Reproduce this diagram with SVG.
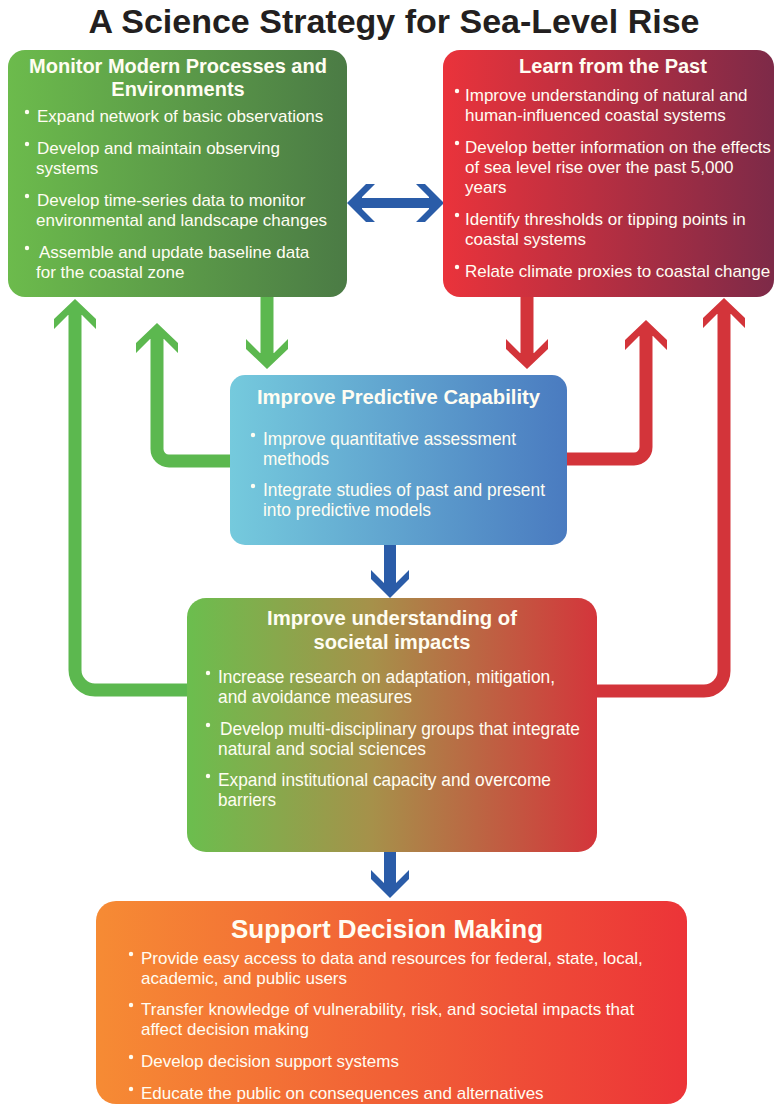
<svg xmlns="http://www.w3.org/2000/svg" width="775" height="1107" viewBox="0 0 775 1107">
<style>
.t{font-family:"Liberation Sans",Arial,sans-serif;fill:#fffdf2}
.h{font-weight:bold;font-size:20px;text-anchor:middle}
.b{font-size:17px}
.n{font-family:"Liberation Sans Narrow","Liberation Sans",Arial,sans-serif;fill:#fffdf2}
.nb{font-size:19px}
.nh{font-size:20px;font-weight:bold;text-anchor:middle}
.d{fill:#fffdf2}
.cg{fill:none;stroke:#5cb84f;stroke-width:13}
.cr{fill:none;stroke:#d3343a;stroke-width:13}
.cb{fill:none;stroke:#2a5ca8;stroke-width:12}
</style>
<defs>
<linearGradient id="g1" x1="0" y1="0" x2="1" y2="0"><stop offset="0" stop-color="#6cbb4c"/><stop offset="1" stop-color="#4b7b45"/></linearGradient>
<linearGradient id="g2" x1="0" y1="0" x2="1" y2="0"><stop offset="0" stop-color="#ea333b"/><stop offset="1" stop-color="#7d2a48"/></linearGradient>
<linearGradient id="g3" x1="0" y1="0" x2="1" y2="0"><stop offset="0" stop-color="#75cadd"/><stop offset="1" stop-color="#4a7bc0"/></linearGradient>
<linearGradient id="g4" x1="0" y1="0" x2="1" y2="0"><stop offset="0" stop-color="#6bbe4e"/><stop offset="0.45" stop-color="#a6914a"/><stop offset="1" stop-color="#d4353b"/></linearGradient>
<linearGradient id="g5" x1="0" y1="0" x2="1" y2="0"><stop offset="0" stop-color="#f68b34"/><stop offset="1" stop-color="#ec3438"/></linearGradient>
<marker id="mg" markerUnits="userSpaceOnUse" viewBox="-30 -30 60 60" markerWidth="60" markerHeight="60" refX="0" refY="0" orient="auto" style="overflow:visible"><path d="M14,0 L-6,-21 L-16,-21 L-2,-7 L-2,7 L-16,21 L-6,21 Z" fill="#5cb84f"/></marker>
<marker id="mr" markerUnits="userSpaceOnUse" viewBox="-30 -30 60 60" markerWidth="60" markerHeight="60" refX="0" refY="0" orient="auto" style="overflow:visible"><path d="M14,0 L-6,-21 L-16,-21 L-2,-7 L-2,7 L-16,21 L-6,21 Z" fill="#d3343a"/></marker>
<marker id="mb" markerUnits="userSpaceOnUse" viewBox="-30 -30 60 60" markerWidth="60" markerHeight="60" refX="0" refY="0" orient="auto-start-reverse" style="overflow:visible"><path d="M13,0 L-6,-19 L-15,-19 L-2,-6 L-2,6 L-15,19 L-6,19 Z" fill="#2a5ca8"/></marker>
</defs>
<rect width="775" height="1107" fill="#ffffff"/>
<text x="394" y="33" style="font-family:'Liberation Sans',Arial,sans-serif;font-weight:bold;font-size:34px;fill:#231f20;text-anchor:middle">A Science Strategy for Sea-Level Rise</text>

<g id="connectors">
<path class="cg" d="M190,690 H95 A20,20 0 0 1 75,670 V313" marker-end="url(#mg)"/>
<path class="cg" d="M233,461 H169 A12,12 0 0 1 157,449 V337" marker-end="url(#mg)"/>
<path class="cg" d="M267,295 V355" marker-end="url(#mg)"/>
<path class="cr" d="M527,295 V355" marker-end="url(#mr)"/>
<path class="cr" d="M564,459 H634 A12,12 0 0 0 646,447 V334" marker-end="url(#mr)"/>
<path class="cr" d="M594,691 H704 A20,20 0 0 0 724,671 V312" marker-end="url(#mr)"/>
<path class="cb" d="M390,543 V585" marker-end="url(#mb)"/>
<path class="cb" d="M390,850 V885" marker-end="url(#mb)"/>
<path class="cb" style="stroke-width:10" d="M360,203 H431" marker-start="url(#mb)" marker-end="url(#mb)"/>
</g>

<g id="monitor">
<rect x="8" y="50" width="339" height="247" rx="17" fill="url(#g1)"/>
<text class="t h" x="178" y="73">Monitor Modern Processes and</text>
<text class="t h" x="178" y="96">Environments</text>
<circle class="d" cx="27" cy="112" r="2.2"/>
<text class="t b" x="37" y="122">Expand network of basic observations</text>
<circle class="d" cx="27" cy="144" r="2.2"/>
<text class="t b" x="37" y="154">Develop and maintain observing</text>
<text class="t b" x="36" y="174">systems</text>
<circle class="d" cx="27" cy="196" r="2.2"/>
<text class="t b" x="37" y="206">Develop time-series data to monitor</text>
<text class="t b" x="36" y="226">environmental and landscape changes</text>
<circle class="d" cx="27" cy="248" r="2.2"/>
<text class="t b" x="39" y="258">Assemble and update baseline data</text>
<text class="t b" x="36" y="278">for the coastal zone</text>
</g>

<g id="past">
<rect x="443" y="50" width="331" height="247" rx="17" fill="url(#g2)"/>
<text class="t h" x="613" y="73">Learn from the Past</text>
<circle class="d" cx="457" cy="91" r="2.2"/>
<text class="t b" x="465" y="101">Improve understanding of natural and</text>
<text class="t b" x="465" y="121">human-influenced coastal systems</text>
<circle class="d" cx="457" cy="143" r="2.2"/>
<text class="t b" x="465" y="153">Develop better information on the effects</text>
<text class="t b" x="465" y="173">of sea level rise over the past 5,000</text>
<text class="t b" x="465" y="193">years</text>
<circle class="d" cx="457" cy="215" r="2.2"/>
<text class="t b" x="465" y="225">Identify thresholds or tipping points in</text>
<text class="t b" x="465" y="245">coastal systems</text>
<circle class="d" cx="457" cy="267" r="2.2"/>
<text class="t b" x="465" y="277">Relate climate proxies to coastal change</text>
</g>

<g id="predictive">
<rect x="230" y="375" width="337" height="170" rx="15" fill="url(#g3)"/>
<text class="n nh" x="398.5" y="404" textLength="283" lengthAdjust="spacingAndGlyphs">Improve Predictive Capability</text>
<circle class="d" cx="253" cy="435" r="2.2"/>
<text class="n nb" x="263" y="445" textLength="253" lengthAdjust="spacingAndGlyphs">Improve quantitative assessment</text>
<text class="n nb" x="263" y="465" textLength="66" lengthAdjust="spacingAndGlyphs">methods</text>
<circle class="d" cx="253" cy="486" r="2.2"/>
<text class="n nb" x="263" y="496" textLength="282" lengthAdjust="spacingAndGlyphs">Integrate studies of past and present</text>
<text class="n nb" x="263" y="516" textLength="168" lengthAdjust="spacingAndGlyphs">into predictive models</text>
</g>

<g id="societal">
<rect x="187" y="598" width="410" height="254" rx="19" fill="url(#g4)"/>
<text class="n nh" x="392" y="625" textLength="250" lengthAdjust="spacingAndGlyphs">Improve understanding of</text>
<text class="n nh" x="392" y="649" textLength="157" lengthAdjust="spacingAndGlyphs">societal impacts</text>
<circle class="d" cx="208" cy="673" r="2.2"/>
<text class="n nb" x="218" y="683" textLength="337" lengthAdjust="spacingAndGlyphs">Increase research on adaptation, mitigation,</text>
<text class="n nb" x="218" y="703" textLength="194" lengthAdjust="spacingAndGlyphs">and avoidance measures</text>
<circle class="d" cx="208" cy="725" r="2.2"/>
<text class="n nb" x="220" y="735" textLength="360" lengthAdjust="spacingAndGlyphs">Develop multi-disciplinary groups that integrate</text>
<text class="n nb" x="218" y="755" textLength="208" lengthAdjust="spacingAndGlyphs">natural and social sciences</text>
<circle class="d" cx="208" cy="776" r="2.2"/>
<text class="n nb" x="218" y="786" textLength="333" lengthAdjust="spacingAndGlyphs">Expand institutional capacity and overcome</text>
<text class="n nb" x="218" y="806" textLength="58" lengthAdjust="spacingAndGlyphs">barriers</text>
</g>

<g id="decision">
<rect x="96" y="901" width="591" height="203" rx="20" fill="url(#g5)"/>
<text class="t" x="387" y="938" style="font-weight:bold;font-size:26px;text-anchor:middle">Support Decision Making</text>
<circle class="d" cx="131" cy="954" r="2.2"/>
<text class="t b" x="141" y="964">Provide easy access to data and resources for federal, state, local,</text>
<text class="t b" x="141" y="984">academic, and public users</text>
<circle class="d" cx="131" cy="1005" r="2.2"/>
<text class="t b" x="141" y="1015">Transfer knowledge of vulnerability, risk, and societal impacts that</text>
<text class="t b" x="141" y="1035">affect decision making</text>
<circle class="d" cx="131" cy="1057" r="2.2"/>
<text class="t b" x="141" y="1067">Develop decision support systems</text>
<circle class="d" cx="131" cy="1089" r="2.2"/>
<text class="t b" x="141" y="1099">Educate the public on consequences and alternatives</text>
</g>
</svg>
